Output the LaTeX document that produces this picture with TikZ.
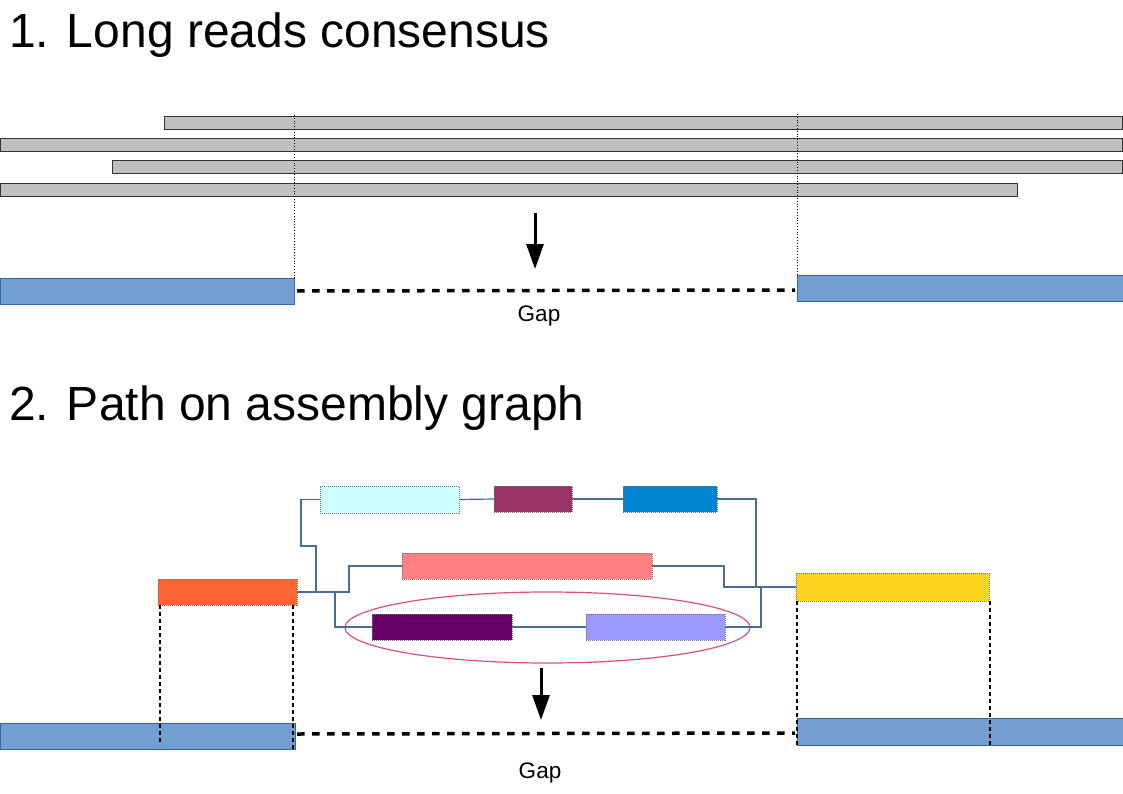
\documentclass[tikz,border=0pt]{standalone}
\usepackage{fontspec}
\setmainfont{Liberation Sans}
\usetikzlibrary{arrows.meta,shapes.geometric}
\definecolor{readgray}{HTML}{C0C0C0}
\definecolor{ctgfill}{HTML}{729FCF}
\definecolor{ctgdraw}{HTML}{3465A4}
\definecolor{connc}{RGB}{74,108,152}
\definecolor{ellc}{RGB}{222,82,112}
\definecolor{corange}{HTML}{FF6633}
\definecolor{ccyan}{HTML}{CCFFFF}
\definecolor{cpurple}{HTML}{993366}
\definecolor{cblue}{HTML}{0084D1}
\definecolor{csalmon}{HTML}{FF8080}
\definecolor{cdpurple}{HTML}{660066}
\definecolor{clpurple}{HTML}{9999FF}
\definecolor{cyellow}{HTML}{FFD320}
\tikzset{
  readbar/.style={draw=black!80, line width=1pt, fill=readgray, minimum height=13pt, inner sep=0pt, outer sep=0pt},
  contig/.style={draw=ctgdraw, line width=1pt, fill=ctgfill, minimum height=26pt, inner sep=0pt, outer sep=0pt},
  gnode/.style={draw=black!55, densely dotted, line width=1pt, minimum height=26pt, inner sep=0pt, outer sep=0pt},
  conn/.style={draw=connc, line width=1.2pt},
  guide/.style={draw=black, dotted, line width=0.8pt},
  vdash/.style={draw=black, line width=2.5pt, dash pattern=on 4pt off 3pt},
  gapline/.style={draw=black, line width=3.5pt, dash pattern=on 7.5pt off 7.5pt},
  bigarrow/.style={draw=black, line width=3pt, -{Triangle[length=25pt,width=17pt]}},
  titletext/.style={font=\fontsize{48}{56}\selectfont, anchor=base west, inner sep=0pt},
  gaptext/.style={font=\fontsize{22.5}{27}\selectfont, inner sep=0pt}
}
\begin{document}
\begin{tikzpicture}[x=1pt,y=-1pt]
\useasboundingbox (0,0) rectangle (1123,794);
\fill[white] (0,0) rectangle (1123,794);

% ---------- Section 1 ----------
\node[titletext] (t1) at (9,48) {1. Long reads consensus};

\node[readbar, minimum width=958pt] (r1) at (643,123.5) {};
\node[readbar, minimum width=1122pt] (r2) at (561.5,145.5) {};
\node[readbar, minimum width=1010pt] (r3) at (617,167.5) {};
\node[readbar, minimum width=1017pt] (r4) at (509,190.5) {};

\node[contig, minimum width=294pt] (bl1) at (147,291) {};
\node[contig, minimum width=326pt] (br1) at (960,288) {};

\coordinate (g1top) at (294,115);
\coordinate (g2top) at (797,114);
\draw[guide] (g1top) -- (bl1.north east);
\draw[guide] (g2top) -- (br1.north west);

\coordinate (gap1a) at (297,291);
\coordinate (gap1b) at (795,290);
\draw[gapline] (gap1a) -- (gap1b);

\coordinate (a1s) at (535,213);
\coordinate (a1e) at (535,269);
\draw[bigarrow] (a1s) -- (a1e);

\node[gaptext] (gap1) at (539,316) {Gap};

% ---------- Section 2 ----------
\node[titletext] (t2) at (9,420) {2. Path on assembly graph};

\node[gnode, fill=corange, minimum width=139pt] (o) at (227.5,592) {};
\node[gnode, fill=ccyan, minimum width=139pt, minimum height=27pt] (c) at (389.5,499.5) {};
\node[gnode, fill=cpurple, minimum width=78pt] (p) at (533,499) {};
\node[gnode, fill=cblue, minimum width=94pt] (b) at (670,499) {};
\node[gnode, fill=csalmon, minimum width=250pt] (s) at (527,566) {};
\node[gnode, fill=cdpurple, minimum width=140pt] (dp) at (442,627) {};
\node[gnode, fill=clpurple, minimum width=139pt] (lp) at (655.5,627) {};
\node[gnode, fill=cyellow, minimum width=193pt, minimum height=28pt] (y) at (892.5,587) {};

\node[draw=ellc, line width=1.2pt, ellipse, minimum width=405pt, minimum height=71pt, inner sep=0pt] (e) at (547.5,627.5) {};

% connectors
\draw[conn] (o.east) -| (316,546) -| (301,499.5) -- (c.west);
\draw[conn] (c.east) -- (p.west);
\draw[conn] (p.east) -- (b.west);
\draw[conn] (b.east) -| (756,587) -- (y.west);
\draw[conn] (o.east) -| (349,566) -- (s.west);
\draw[conn] (s.east) -| (724,587) -- (y.west);
\draw[conn] (o.east) -| (335,627) -- (dp.west);
\draw[conn] (dp.east) -- (lp.west);
\draw[conn] (lp.east) -| (761,587) -- (y.west);

\node[contig, minimum width=295pt] (bl2) at (147.5,736) {};
\node[contig, minimum width=326pt, minimum height=27pt] (br2) at (960,731.5) {};

% projection lines
\coordinate (v1) at (160,745);
\coordinate (v2) at (293,749);
\coordinate (v3) at (797,745);
\coordinate (v4) at (990,745);
\draw[vdash] (o.south west -| v1) -- (v1);
\draw[vdash] (o.south east -| v2) -- (v2);
\draw[vdash] (y.south west -| v3) -- (v3);
\draw[vdash] (y.south east -| v4) -- (v4);

\coordinate (gap2a) at (297,734);
\coordinate (gap2b) at (795,733);
\draw[gapline] (gap2a) -- (gap2b);

\coordinate (a2s) at (541,668);
\coordinate (a2e) at (541,720);
\draw[bigarrow] (a2s) -- (a2e);

\node[gaptext] (gap2) at (540,773) {Gap};
\end{tikzpicture}
\end{document}
